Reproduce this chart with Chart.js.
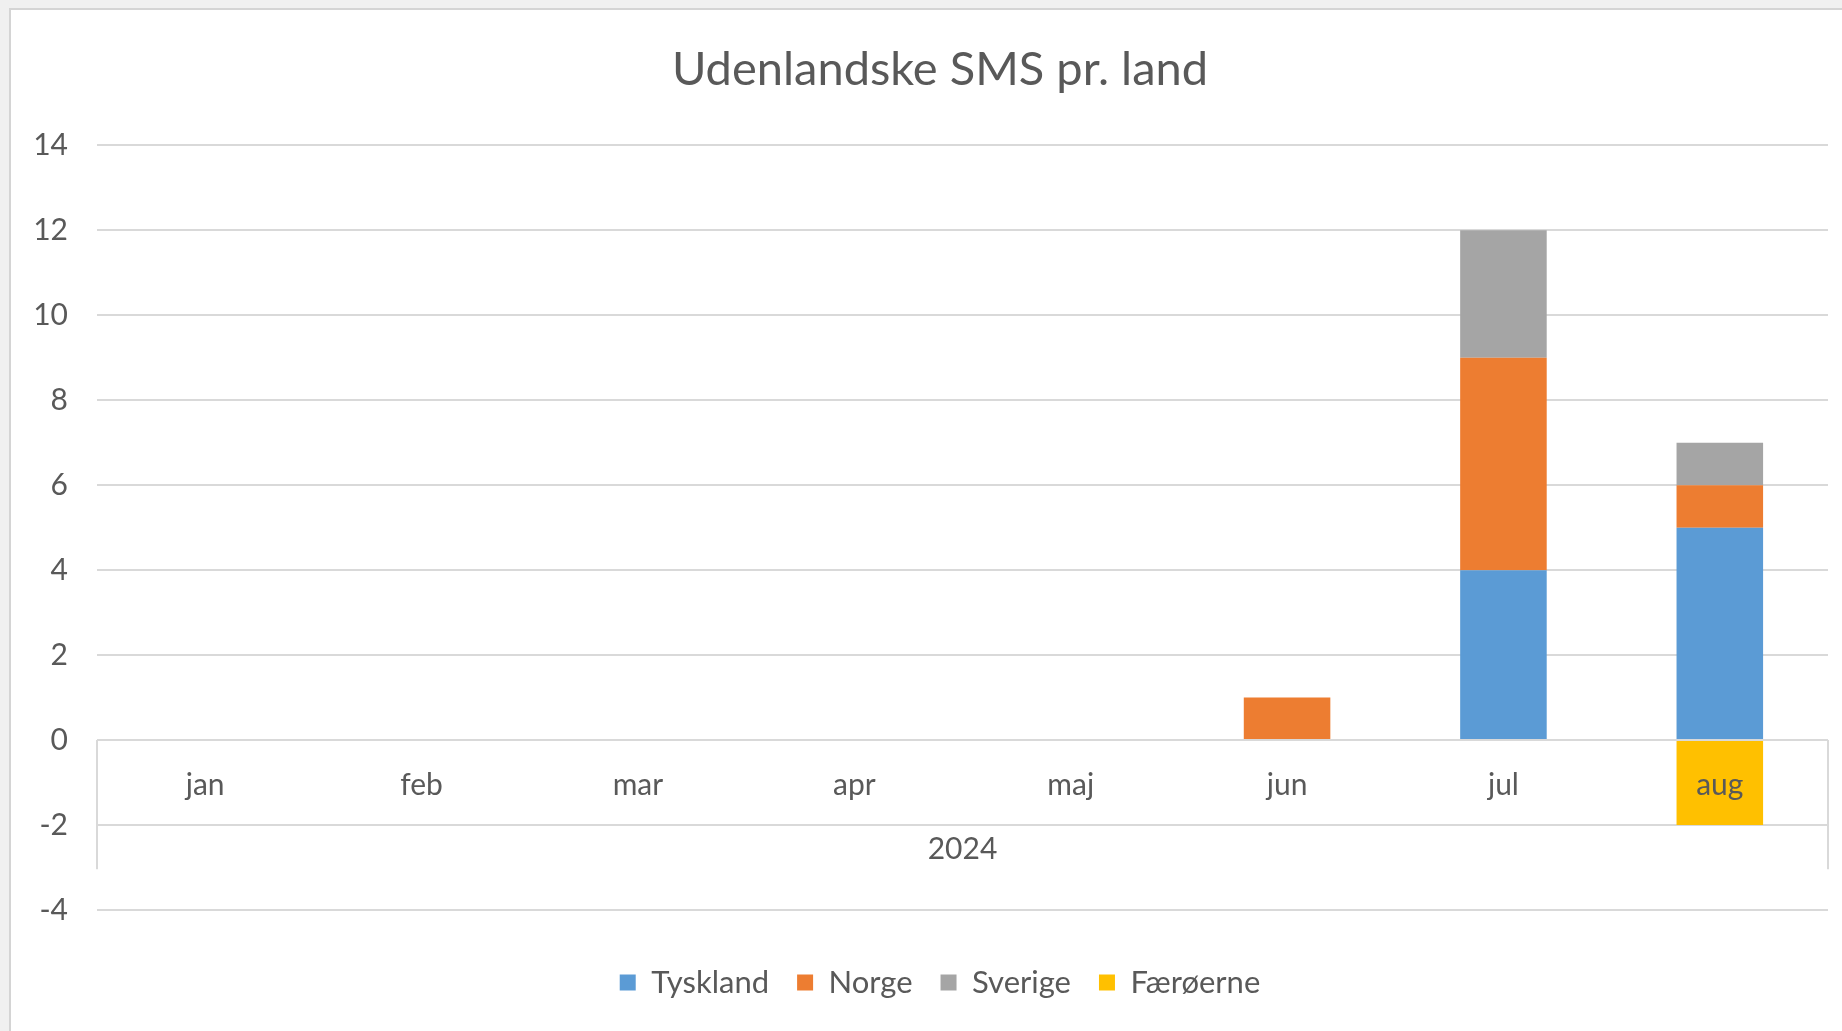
<!DOCTYPE html>
<html>
<head>
<meta charset="utf-8">
<script src="https://cdn.jsdelivr.net/npm/chart.js@4/dist/chart.umd.min.js"></script>
<style>
  html, body { margin: 0; padding: 0; overflow: hidden; background: #f0f0f0; }
  #frame {
    position: absolute; left: 9px; top: 8px; right: 0; bottom: 0;
    background: #fff; border-left: 2px solid #d4d4d4; border-top: 2px solid #d4d4d4;
  }
  #wrap { position: absolute; left: 0; top: 0; width: 1880px; height: 1031px; }
</style>
</head>
<body>
<div id="frame"></div>
<div id="wrap"><canvas id="chart"></canvas></div>
<script>
// data
const months = ['jan', 'feb', 'mar', 'apr', 'maj', 'jun', 'jul', 'aug'];
const yearLabel = '2024';
const tyskland = [0, 0, 0, 0, 0, 0, 4, 5];
const norge = [0, 0, 0, 0, 0, 1, 5, 1];
const sverige = [0, 0, 0, 0, 0, 0, 3, 1];
const faeroerne = [0, 0, 0, 0, 0, 0, 0, -2];

const FONT = 'Lato, "Open Sans", sans-serif';
const TEXT = '#595959';
const GRID = '#d9d9d9';

// Excel-style category axis drawn on the zero line (two levels: month / year)
const categoryAxisPlugin = {
    id: 'categoryAxis',
    afterDatasetsDraw(chart) {
        const { ctx, chartArea } = chart;
        const x = chart.scales.x;
        const y = chart.scales.y;
        const y0 = y.getPixelForValue(0);
        const rowH = y.getPixelForValue(-2) - y0;

        ctx.save();
        ctx.strokeStyle = GRID;
        ctx.lineWidth = 2;
        ctx.beginPath();
        ctx.moveTo(chartArea.left, y0);
        ctx.lineTo(chartArea.left, y0 + rowH * 1.52);
        ctx.moveTo(chartArea.right, y0);
        ctx.lineTo(chartArea.right, y0 + rowH * 1.52);
        ctx.stroke();

        ctx.fillStyle = TEXT;
        ctx.font = '30px ' + FONT;
        ctx.textAlign = 'center';
        ctx.textBaseline = 'middle';
        months.forEach((m, i) => {
            ctx.fillText(m, x.getPixelForValue(i), y0 + rowH * 0.53);
        });
        ctx.fillText(yearLabel, (chartArea.left + chartArea.right) / 2, y0 + rowH * 1.29);
        ctx.restore();
    }
};

const canvas = document.getElementById('chart');
canvas.width = 1880;
canvas.height = 1031;
canvas.style.width = '1880px';
canvas.style.height = '1031px';

const mk = (label, data, color) => ({
    label: label,
    data: data,
    backgroundColor: color,
    borderWidth: 0,
    barPercentage: 0.4,
    categoryPercentage: 1.0
});

new Chart(canvas.getContext('2d'), {
    type: 'bar',
    data: {
        labels: months,
        datasets: [
            mk('Tyskland', tyskland, '#5b9bd5'),
            mk('Norge', norge, '#ed7d31'),
            mk('Sverige', sverige, '#a5a5a5'),
            mk('Færøerne', faeroerne, '#ffc000')
        ]
    },
    options: {
        responsive: false,
        animation: false,
        layout: { padding: { top: 0, left: 0, right: 0, bottom: 23 } },
        plugins: {
            tooltip: { enabled: false },
            title: {
                display: true,
                text: 'Udenlandske SMS pr. land',
                color: TEXT,
                font: { family: FONT, size: 47, weight: 'normal' },
                padding: { top: 42, bottom: 47 }
            },
            legend: {
                position: 'bottom',
                labels: {
                    color: TEXT,
                    font: { family: FONT, size: 31 },
                    boxWidth: 16,
                    boxHeight: 16,
                    padding: 28
                }
            }
        },
        scales: {
            x: {
                stacked: true,
                grid: { display: false },
                border: { display: false },
                ticks: { display: false },
                afterFit(scale) { scale.height = 29; }
            },
            y: {
                stacked: true,
                min: -4,
                max: 14,
                grid: { color: GRID, lineWidth: 2, drawTicks: false },
                border: { display: false },
                ticks: {
                    stepSize: 2,
                    padding: 29,
                    color: TEXT,
                    font: { family: FONT, size: 30 }
                },
                afterFit(scale) { scale.width = 97; }
            },
            // empty right-hand spacer so title and legend centre on the whole chart
            spacer: {
                position: 'right',
                grid: { display: false },
                border: { display: false },
                ticks: { display: false },
                afterFit(scale) { scale.width = 52; }
            }
        }
    },
    plugins: [categoryAxisPlugin]
});
</script>
</body>
</html>
